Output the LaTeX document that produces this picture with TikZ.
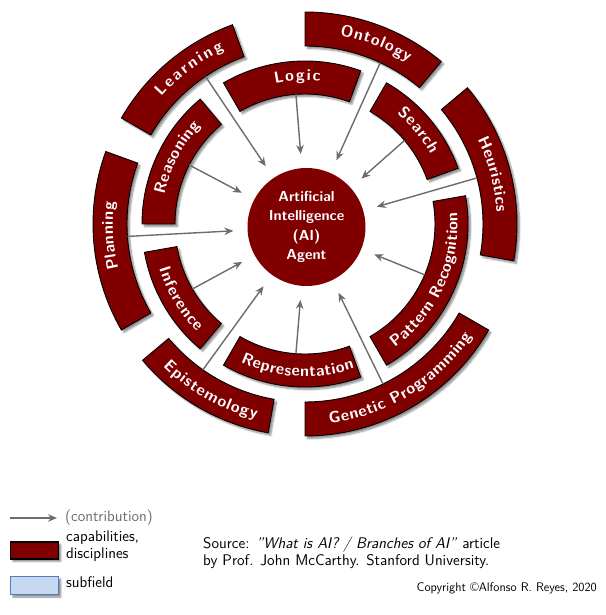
\documentclass[tikz,border=0pt]{standalone}
\definecolor{main}{RGB}{128, 0, 0}
\definecolor{arrowgray}{RGB}{108, 108, 108}
\definecolor{subfill}{RGB}{198, 217, 240}
\definecolor{subline}{RGB}{84, 124, 184}
\usepackage{tikz}
\usetikzlibrary{arrows.meta, positioning, calc, decorations.text, shadows.blur}

\newcommand\bandfont{\fontsize{16}{18}\selectfont\sffamily\bfseries}
\newcommand\agentfont{\fontsize{14.5}{19.3}\selectfont\sffamily\bfseries}
\newcommand\legendfont{\fontsize{15.4}{16.7}\selectfont\sffamily}

\tikzset{
    band/.style={fill=main, draw=black, line width=0.9pt,
        blur shadow={shadow xshift=2.5pt, shadow yshift=-2.5pt, shadow blur steps=6, shadow opacity=45}},
    bandtext/.style={decorate, decoration={text along path, text={|\bandfont|#1},
        text align=fit to path, text color=white, raise=-4.5pt}},
    contrib/.style={draw=arrowgray, line width=1.4pt, -{Stealth[length=9pt, width=7.5pt]}},
    agent/.style={circle, fill=main, text=white, font=\agentfont, align=center,
        minimum size=118pt, inner sep=0pt},
}

\begin{document}
\begin{tikzpicture}[x=1pt, y=1pt]
    \useasboundingbox (-305,224) rectangle (300,-391);

    \node[agent] (agent) at (1.5,-3) {Artificial\\Intelligence\\(AI)\\Agent};

    % outer ring: band angles, text angles (reading direction), label, arrow angle
    \foreach \a/\b/\s/\e/\lab/\t in {150/110/138.5/115/Learning/124, 90/50/79.5/57.5/Ontology/65,
        40/-10/26/3.5/Heuristics/15, -90/-30/-83/-34/Genetic Programming/-64,
        -140/-100/-135/-104/Epistemology/-125, 210/160/193.5/173.5/Planning/184}{
        \draw[band] (\a:178) arc[start angle=\a, end angle=\b, radius=178]
            -- (\b:212) arc[start angle=\b, end angle=\a, radius=212] -- cycle;
        \path[bandtext/.expand once=\lab] (\s:196.5) arc[start angle=\s, end angle=\e, radius=196.5];
        \coordinate (from-\t) at (\t:178);
        \draw[contrib, shorten >=14pt] (from-\t) -- (agent);
    }

    % inner ring
    \foreach \a/\b/\s/\e/\lab/\t in {180/130/168/137/Reasoning/153, 120/70/102/84/Logic/94,
        60/20/50/29/Search/40, -60/10/-54/4.5/Pattern Recognition/-23,
        -120/-70/-115/-71/Representation/-94, 190/230/197/225/Inference/210}{
        \draw[band] (\a:130) arc[start angle=\a, end angle=\b, radius=130]
            -- (\b:163) arc[start angle=\b, end angle=\a, radius=163] -- cycle;
        \path[bandtext/.expand once=\lab] (\s:148) arc[start angle=\s, end angle=\e, radius=148];
        \coordinate (from-\t) at (\t:130);
        \draw[contrib, shorten >=14pt] (from-\t) -- (agent);
    }

    % legend
    \coordinate (leg-a) at (-295,-294);
    \coordinate (leg-b) at (-248,-294);
    \draw[contrib] (leg-a) -- (leg-b);
    \node[anchor=west, font=\legendfont, text=arrowgray, inner sep=0pt] (leg-contrib) at (-240,-294) {(contribution)};
    \node[fill=main, draw=black, line width=1.6pt, minimum width=48pt, minimum height=17pt, inner sep=0pt,
        blur shadow={shadow xshift=2.5pt, shadow yshift=-2.5pt, shadow opacity=45}] (leg-cap) at (-270.5,-326.5) {};
    \node[anchor=west, font=\legendfont, align=left, inner sep=0pt] (leg-cap-text) at (-239,-322) {capabilities,\\disciplines};
    \node[fill=subfill, draw=subline, line width=1.2pt, minimum width=48pt, minimum height=18pt, inner sep=0pt,
        blur shadow={shadow xshift=2.5pt, shadow yshift=-2.5pt, shadow opacity=45}] (leg-sub) at (-270.5,-361.5) {};
    \node[anchor=west, font=\legendfont, inner sep=0pt] (leg-sub-text) at (-239,-358) {subfield};

    \node[anchor=west, font=\legendfont, align=left, inner sep=0pt] (source) at (-102,-328.5)
        {Source: \textit{"What is AI? / Branches of AI"} article\\by Prof. John McCarthy. Stanford University.};
    \node[anchor=east, font=\fontsize{12.5}{14}\selectfont\sffamily, inner sep=0pt] (copyright) at (292,-364)
        {Copyright \textcopyright Alfonso R. Reyes, 2020};
\end{tikzpicture}
\end{document}
